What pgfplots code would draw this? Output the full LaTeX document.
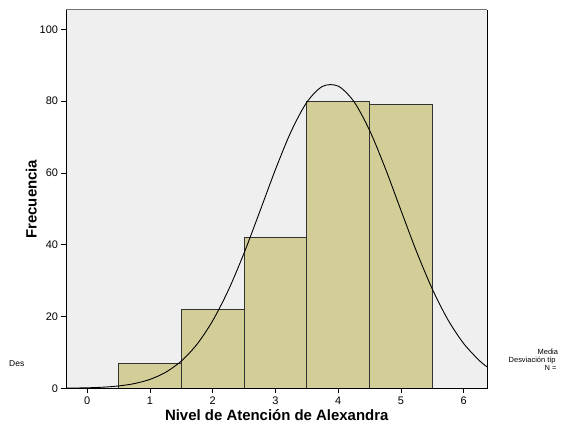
\documentclass[border=0pt]{standalone}
\usepackage{pgfplots}
\pgfplotsset{compat=1.18}
\usepackage{fontspec}
\setmainfont{Liberation Sans}
\definecolor{bgc}{HTML}{EFEFEF}
\definecolor{barc}{HTML}{D3CE97}
\definecolor{edgec}{HTML}{333333}
\begin{document}
\begin{tikzpicture}
\path[use as bounding box] (-66.5bp,-43.7bp) rectangle (502.5bp,388.3bp);
\begin{axis}[
  at={(0,0)}, anchor=south west,
  scale only axis, width=420.5bp, height=378.3bp,
  xmin=-0.33, xmax=6.37, ymin=0, ymax=105.4,
  axis background/.style={fill=bgc},
  axis line style={draw=none},
  xtick={0,1,2,3,4,5,6}, ytick={0,20,40,60,80,100},
  tick align=outside, tick pos=left,
  major tick length=5bp,
  tick style={black, line width=0.6pt},
  tick label style={font=\fontsize{11}{13}\selectfont},
  /pgf/number format/assume math mode=true,
  xlabel={\bfseries Nivel de Atención de Alexandra},
  ylabel={\bfseries Frecuencia},
  label style={font=\fontsize{15}{17}\selectfont},
  xlabel style={yshift=2bp},
  ylabel style={yshift=-4bp},
  clip=false,
]
\addplot[ybar, bar width=1, fill=barc, draw=edgec, line width=0.8pt] coordinates {
  (1,7) (2,22) (3,42) (4,80) (5,79)
};
\addplot[smooth, black, line width=0.9pt] coordinates {
  (-0.33,0.045) (0,0.139) (0.25,0.310) (0.5,0.654) (0.75,1.308) (1.0,2.48)
  (1.25,4.46) (1.5,7.60) (1.75,12.29) (2.0,18.84) (2.25,27.37) (2.5,37.71)
  (2.75,49.25) (3.0,60.99) (3.25,71.61) (3.5,79.71) (3.75,84.13)
  (4.0,84.18) (4.25,79.87) (4.5,71.84) (4.75,61.27) (5.0,49.54) (5.25,37.97)
  (5.5,27.60) (5.75,19.02) (6.0,12.43) (6.25,7.70) (6.37,6.00)
};
\draw[black, line width=0.8pt] (rel axis cs:0,1) -- (rel axis cs:0,0) -- (rel axis cs:1,0) -- (rel axis cs:1,1);
\draw[black!55, line width=1pt] (rel axis cs:0,1) -- (rel axis cs:1,1);
\end{axis}
\node[anchor=base west, font=\fontsize{8.5}{10}\selectfont, inner sep=0pt] at (-57.5bp,21.6bp) {Des};
\node[anchor=base west, font=\fontsize{7.5}{9}\selectfont, inner sep=0pt] at (471bp,33.8bp) {Media};
\node[anchor=base west, font=\fontsize{7.5}{9}\selectfont, inner sep=0pt] at (442bp,25.6bp) {Desviación típ};
\node[anchor=base west, font=\fontsize{7.5}{9}\selectfont, inner sep=0pt] at (478bp,17.4bp) {N =};
\end{tikzpicture}
\end{document}
